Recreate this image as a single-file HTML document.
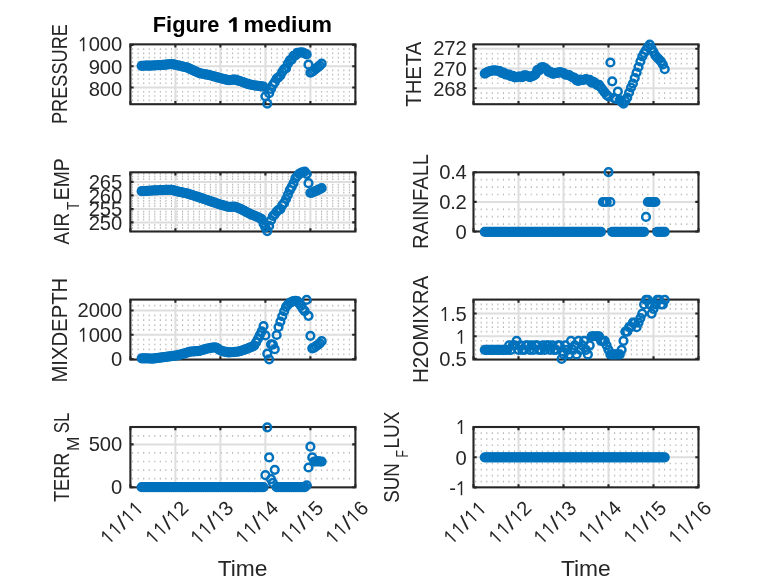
<!DOCTYPE html>
<html><head><meta charset="utf-8"><title>Figure 1 medium</title>
<style>html,body{margin:0;padding:0;background:#fff;}svg{display:block;will-change:transform;}</style>
</head><body>
<svg width="778" height="583" viewBox="0 0 778 583" font-family="'Liberation Sans', sans-serif" fill="#262626">
<rect width="778" height="583" fill="#fff"/>
<g id="ax0">
<path d="M132.00 49.16H355.40M132.00 53.42H355.40M132.00 57.68H355.40M132.00 61.94H355.40M132.00 70.46H355.40M132.00 74.72H355.40M132.00 78.98H355.40M132.00 83.24H355.40M132.00 91.76H355.40M132.00 96.02H355.40M132.00 100.28H355.40" stroke="#b6b6b6" stroke-width="1.7" stroke-dasharray="1.1 4.460" fill="none"/>
<path d="M175.40 44.35V104.20M220.40 44.35V104.20M265.40 44.35V104.20M310.40 44.35V104.20M130.40 66.20H355.40M130.40 87.50H355.40" stroke="#dedede" stroke-width="2.0" fill="none"/>
<rect x="130.40" y="44.35" width="225.00" height="59.85" fill="none" stroke="#262626" stroke-width="2.1"/>
<path d="M130.40 104.20v-3.2M130.40 44.35v3.2M175.40 104.20v-3.2M175.40 44.35v3.2M220.40 104.20v-3.2M220.40 44.35v3.2M265.40 104.20v-3.2M265.40 44.35v3.2M310.40 104.20v-3.2M310.40 44.35v3.2M355.40 104.20v-3.2M355.40 44.35v3.2M130.40 44.90h3.2M355.40 44.90h-3.2M130.40 66.20h3.2M355.40 66.20h-3.2M130.40 87.50h3.2M355.40 87.50h-3.2" stroke="#262626" stroke-width="2.1" fill="none"/>
<g fill="none" stroke="#0072bd" stroke-width="2.5">
<circle cx="141.65" cy="65.80" r="3.85"/>
<circle cx="143.53" cy="65.75" r="3.85"/>
<circle cx="145.40" cy="65.70" r="3.85"/>
<circle cx="147.28" cy="65.65" r="3.85"/>
<circle cx="149.15" cy="65.60" r="3.85"/>
<circle cx="151.03" cy="65.55" r="3.85"/>
<circle cx="152.90" cy="65.50" r="3.85"/>
<circle cx="154.78" cy="65.39" r="3.85"/>
<circle cx="156.65" cy="65.27" r="3.85"/>
<circle cx="158.53" cy="65.15" r="3.85"/>
<circle cx="160.40" cy="65.03" r="3.85"/>
<circle cx="162.28" cy="64.91" r="3.85"/>
<circle cx="164.15" cy="64.79" r="3.85"/>
<circle cx="166.03" cy="64.61" r="3.85"/>
<circle cx="167.90" cy="64.44" r="3.85"/>
<circle cx="169.78" cy="64.27" r="3.85"/>
<circle cx="171.65" cy="64.11" r="3.85"/>
<circle cx="173.53" cy="64.47" r="3.85"/>
<circle cx="175.40" cy="64.83" r="3.85"/>
<circle cx="177.28" cy="65.23" r="3.85"/>
<circle cx="179.15" cy="65.67" r="3.85"/>
<circle cx="181.03" cy="66.10" r="3.85"/>
<circle cx="182.90" cy="66.54" r="3.85"/>
<circle cx="184.78" cy="66.98" r="3.85"/>
<circle cx="186.65" cy="67.42" r="3.85"/>
<circle cx="188.53" cy="68.20" r="3.85"/>
<circle cx="190.40" cy="69.06" r="3.85"/>
<circle cx="192.28" cy="69.92" r="3.85"/>
<circle cx="194.15" cy="70.79" r="3.85"/>
<circle cx="196.03" cy="71.65" r="3.85"/>
<circle cx="197.90" cy="72.51" r="3.85"/>
<circle cx="199.78" cy="73.27" r="3.85"/>
<circle cx="201.65" cy="73.62" r="3.85"/>
<circle cx="203.53" cy="73.98" r="3.85"/>
<circle cx="205.40" cy="74.33" r="3.85"/>
<circle cx="207.28" cy="74.69" r="3.85"/>
<circle cx="209.15" cy="75.04" r="3.85"/>
<circle cx="211.03" cy="75.50" r="3.85"/>
<circle cx="212.90" cy="76.04" r="3.85"/>
<circle cx="214.78" cy="76.59" r="3.85"/>
<circle cx="216.65" cy="77.13" r="3.85"/>
<circle cx="218.53" cy="77.68" r="3.85"/>
<circle cx="220.40" cy="78.23" r="3.85"/>
<circle cx="222.28" cy="78.71" r="3.85"/>
<circle cx="224.15" cy="79.18" r="3.85"/>
<circle cx="226.03" cy="79.64" r="3.85"/>
<circle cx="227.90" cy="80.10" r="3.85"/>
<circle cx="229.78" cy="80.16" r="3.85"/>
<circle cx="231.65" cy="79.92" r="3.85"/>
<circle cx="233.53" cy="79.68" r="3.85"/>
<circle cx="235.40" cy="79.66" r="3.85"/>
<circle cx="237.28" cy="80.28" r="3.85"/>
<circle cx="239.15" cy="80.89" r="3.85"/>
<circle cx="241.03" cy="81.51" r="3.85"/>
<circle cx="242.90" cy="82.19" r="3.85"/>
<circle cx="244.78" cy="82.86" r="3.85"/>
<circle cx="246.65" cy="83.54" r="3.85"/>
<circle cx="248.53" cy="84.22" r="3.85"/>
<circle cx="250.40" cy="84.69" r="3.85"/>
<circle cx="252.28" cy="85.01" r="3.85"/>
<circle cx="254.15" cy="85.32" r="3.85"/>
<circle cx="256.02" cy="85.61" r="3.85"/>
<circle cx="257.90" cy="85.91" r="3.85"/>
<circle cx="259.77" cy="86.15" r="3.85"/>
<circle cx="261.65" cy="86.37" r="3.85"/>
<circle cx="263.52" cy="86.59" r="3.85"/>
<circle cx="265.40" cy="96.30" r="3.85"/>
<circle cx="267.27" cy="103.60" r="3.85"/>
<circle cx="269.15" cy="93.20" r="3.85"/>
<circle cx="271.02" cy="89.00" r="3.85"/>
<circle cx="272.90" cy="84.88" r="3.85"/>
<circle cx="274.77" cy="82.17" r="3.85"/>
<circle cx="276.65" cy="78.55" r="3.85"/>
<circle cx="278.52" cy="77.27" r="3.85"/>
<circle cx="280.40" cy="75.49" r="3.85"/>
<circle cx="282.27" cy="71.80" r="3.85"/>
<circle cx="284.15" cy="69.15" r="3.85"/>
<circle cx="286.02" cy="68.38" r="3.85"/>
<circle cx="287.90" cy="63.68" r="3.85"/>
<circle cx="289.77" cy="60.43" r="3.85"/>
<circle cx="291.65" cy="59.59" r="3.85"/>
<circle cx="293.52" cy="55.87" r="3.85"/>
<circle cx="295.40" cy="55.29" r="3.85"/>
<circle cx="297.27" cy="52.95" r="3.85"/>
<circle cx="299.15" cy="52.85" r="3.85"/>
<circle cx="301.02" cy="52.39" r="3.85"/>
<circle cx="302.90" cy="52.51" r="3.85"/>
<circle cx="304.77" cy="53.48" r="3.85"/>
<circle cx="306.65" cy="54.45" r="3.85"/>
<circle cx="308.52" cy="64.70" r="3.85"/>
<circle cx="310.40" cy="72.70" r="3.85"/>
<circle cx="312.27" cy="71.68" r="3.85"/>
<circle cx="314.15" cy="70.13" r="3.85"/>
<circle cx="316.02" cy="68.65" r="3.85"/>
<circle cx="317.90" cy="67.16" r="3.85"/>
<circle cx="319.77" cy="65.67" r="3.85"/>
<circle cx="321.65" cy="63.66" r="3.85"/>
</g>
<g transform="translate(122.10 51.25)"><path transform="translate(-44.48 0)" d="M6.75 0.00L5.27 0.00L5.27 -9.50Q5.27 -10.69 5.34 -11.74Q5.15 -11.55 4.92 -11.34Q4.69 -11.14 2.78 -9.57L1.98 -10.59L5.49 -13.88L6.75 -13.88Z"/><text x="-33.42" font-size="20.2">0</text><text x="-22.30" font-size="20.2">0</text><text x="-11.18" font-size="20.2">0</text></g>
<g transform="translate(122.10 73.55)"><text x="-33.42" font-size="20.2">9</text><text x="-22.30" font-size="20.2">0</text><text x="-11.18" font-size="20.2">0</text></g>
<g transform="translate(122.10 95.75)"><text x="-33.42" font-size="20.2">8</text><text x="-22.30" font-size="20.2">0</text><text x="-11.18" font-size="20.2">0</text></g>
<text transform="translate(67.10 124.00) rotate(-90)" font-size="22.0" textLength="100.00" lengthAdjust="spacingAndGlyphs">PRESSURE</text>
<g font-size="21.8" font-weight="bold" fill="#000"><text x="152.8" y="31.8" textLength="66.6" lengthAdjust="spacingAndGlyphs">Figure</text><text x="243.6" y="31.8" textLength="88.4" lengthAdjust="spacingAndGlyphs">medium</text><path transform="translate(236.7 31.8)" d="M0 0H-3.5V-9.4Q-3.5 -10.2 -3.4 -11L-6.7 -8.2L-8.3 -10.2L-2.7 -14.5H0Z"/></g>
</g>
<g id="ax1">
<path d="M475.10 53.73H698.50M475.10 58.65H698.50M475.10 63.58H698.50M475.10 73.42H698.50M475.10 78.35H698.50M475.10 83.27H698.50M475.10 93.12H698.50M475.10 98.05H698.50" stroke="#b6b6b6" stroke-width="1.7" stroke-dasharray="1.1 4.460" fill="none"/>
<path d="M518.50 44.35V104.20M563.50 44.35V104.20M608.50 44.35V104.20M653.50 44.35V104.20M473.50 48.80H698.50M473.50 68.50H698.50M473.50 88.20H698.50" stroke="#dedede" stroke-width="2.0" fill="none"/>
<rect x="473.50" y="44.35" width="225.00" height="59.85" fill="none" stroke="#262626" stroke-width="2.1"/>
<path d="M473.50 104.20v-3.2M473.50 44.35v3.2M518.50 104.20v-3.2M518.50 44.35v3.2M563.50 104.20v-3.2M563.50 44.35v3.2M608.50 104.20v-3.2M608.50 44.35v3.2M653.50 104.20v-3.2M653.50 44.35v3.2M698.50 104.20v-3.2M698.50 44.35v3.2M473.50 48.80h3.2M698.50 48.80h-3.2M473.50 68.50h3.2M698.50 68.50h-3.2M473.50 88.20h3.2M698.50 88.20h-3.2" stroke="#262626" stroke-width="2.1" fill="none"/>
<g fill="none" stroke="#0072bd" stroke-width="2.5">
<circle cx="484.75" cy="73.60" r="3.85"/>
<circle cx="486.62" cy="72.69" r="3.85"/>
<circle cx="488.50" cy="71.65" r="3.85"/>
<circle cx="490.38" cy="71.00" r="3.85"/>
<circle cx="492.25" cy="70.65" r="3.85"/>
<circle cx="494.12" cy="70.31" r="3.85"/>
<circle cx="496.00" cy="70.62" r="3.85"/>
<circle cx="497.88" cy="70.85" r="3.85"/>
<circle cx="499.75" cy="71.12" r="3.85"/>
<circle cx="501.62" cy="73.01" r="3.85"/>
<circle cx="503.50" cy="72.52" r="3.85"/>
<circle cx="505.38" cy="74.33" r="3.85"/>
<circle cx="507.25" cy="74.58" r="3.85"/>
<circle cx="509.12" cy="74.52" r="3.85"/>
<circle cx="511.00" cy="76.12" r="3.85"/>
<circle cx="512.88" cy="75.80" r="3.85"/>
<circle cx="514.75" cy="77.43" r="3.85"/>
<circle cx="516.62" cy="77.14" r="3.85"/>
<circle cx="518.50" cy="76.53" r="3.85"/>
<circle cx="520.38" cy="76.62" r="3.85"/>
<circle cx="522.25" cy="77.17" r="3.85"/>
<circle cx="524.12" cy="75.41" r="3.85"/>
<circle cx="526.00" cy="75.42" r="3.85"/>
<circle cx="527.88" cy="76.23" r="3.85"/>
<circle cx="529.75" cy="77.06" r="3.85"/>
<circle cx="531.62" cy="76.37" r="3.85"/>
<circle cx="533.50" cy="75.68" r="3.85"/>
<circle cx="535.38" cy="74.50" r="3.85"/>
<circle cx="537.25" cy="70.08" r="3.85"/>
<circle cx="539.12" cy="70.32" r="3.85"/>
<circle cx="541.00" cy="67.52" r="3.85"/>
<circle cx="542.88" cy="67.19" r="3.85"/>
<circle cx="544.75" cy="68.05" r="3.85"/>
<circle cx="546.62" cy="69.44" r="3.85"/>
<circle cx="548.50" cy="71.91" r="3.85"/>
<circle cx="550.38" cy="71.87" r="3.85"/>
<circle cx="552.25" cy="73.72" r="3.85"/>
<circle cx="554.12" cy="73.60" r="3.85"/>
<circle cx="556.00" cy="72.77" r="3.85"/>
<circle cx="557.88" cy="72.91" r="3.85"/>
<circle cx="559.75" cy="72.17" r="3.85"/>
<circle cx="561.62" cy="72.49" r="3.85"/>
<circle cx="563.50" cy="73.15" r="3.85"/>
<circle cx="565.38" cy="74.71" r="3.85"/>
<circle cx="567.25" cy="74.76" r="3.85"/>
<circle cx="569.12" cy="75.11" r="3.85"/>
<circle cx="571.00" cy="76.51" r="3.85"/>
<circle cx="572.88" cy="77.34" r="3.85"/>
<circle cx="574.75" cy="78.12" r="3.85"/>
<circle cx="576.62" cy="80.33" r="3.85"/>
<circle cx="578.50" cy="80.87" r="3.85"/>
<circle cx="580.38" cy="79.63" r="3.85"/>
<circle cx="582.25" cy="80.11" r="3.85"/>
<circle cx="584.12" cy="79.74" r="3.85"/>
<circle cx="586.00" cy="79.17" r="3.85"/>
<circle cx="587.88" cy="79.75" r="3.85"/>
<circle cx="589.75" cy="79.94" r="3.85"/>
<circle cx="591.62" cy="82.64" r="3.85"/>
<circle cx="593.50" cy="81.76" r="3.85"/>
<circle cx="595.38" cy="83.36" r="3.85"/>
<circle cx="597.25" cy="85.04" r="3.85"/>
<circle cx="599.12" cy="84.93" r="3.85"/>
<circle cx="601.00" cy="87.50" r="3.85"/>
<circle cx="602.88" cy="90.00" r="3.85"/>
<circle cx="604.75" cy="92.50" r="3.85"/>
<circle cx="606.62" cy="94.80" r="3.85"/>
<circle cx="608.50" cy="96.50" r="3.85"/>
<circle cx="610.38" cy="62.50" r="3.85"/>
<circle cx="612.25" cy="81.30" r="3.85"/>
<circle cx="614.12" cy="98.20" r="3.85"/>
<circle cx="616.00" cy="99.00" r="3.85"/>
<circle cx="617.88" cy="91.50" r="3.85"/>
<circle cx="619.75" cy="100.00" r="3.85"/>
<circle cx="621.62" cy="102.00" r="3.85"/>
<circle cx="623.50" cy="103.60" r="3.85"/>
<circle cx="625.38" cy="101.00" r="3.85"/>
<circle cx="627.25" cy="97.50" r="3.85"/>
<circle cx="629.12" cy="92.50" r="3.85"/>
<circle cx="631.00" cy="87.50" r="3.85"/>
<circle cx="632.88" cy="83.50" r="3.85"/>
<circle cx="634.75" cy="78.00" r="3.85"/>
<circle cx="636.62" cy="72.50" r="3.85"/>
<circle cx="638.50" cy="67.00" r="3.85"/>
<circle cx="640.38" cy="61.50" r="3.85"/>
<circle cx="642.25" cy="56.50" r="3.85"/>
<circle cx="644.12" cy="53.00" r="3.85"/>
<circle cx="646.00" cy="50.00" r="3.85"/>
<circle cx="647.88" cy="47.00" r="3.85"/>
<circle cx="649.75" cy="44.60" r="3.85"/>
<circle cx="651.62" cy="48.50" r="3.85"/>
<circle cx="653.50" cy="52.00" r="3.85"/>
<circle cx="655.38" cy="55.50" r="3.85"/>
<circle cx="657.25" cy="57.50" r="3.85"/>
<circle cx="659.12" cy="59.50" r="3.85"/>
<circle cx="661.00" cy="61.50" r="3.85"/>
<circle cx="662.88" cy="64.50" r="3.85"/>
<circle cx="664.75" cy="69.20" r="3.85"/>
</g>
<g transform="translate(466.60 55.15)"><text x="-33.42" font-size="20.2">2</text><text x="-22.30" font-size="20.2">7</text><text x="-11.18" font-size="20.2">2</text></g>
<g transform="translate(466.60 75.85)"><text x="-33.42" font-size="20.2">2</text><text x="-22.30" font-size="20.2">7</text><text x="-11.18" font-size="20.2">0</text></g>
<g transform="translate(466.60 95.95)"><text x="-33.42" font-size="20.2">2</text><text x="-22.30" font-size="20.2">6</text><text x="-11.18" font-size="20.2">8</text></g>
<text transform="translate(421.10 106.80) rotate(-90)" font-size="22.0" textLength="65.20" lengthAdjust="spacingAndGlyphs">THETA</text>
</g>
<g id="ax2">
<path d="M132.00 173.80H355.40M132.00 176.50H355.40M132.00 179.20H355.40M132.00 184.60H355.40M132.00 187.30H355.40M132.00 190.00H355.40M132.00 192.70H355.40M132.00 198.10H355.40M132.00 200.80H355.40M132.00 203.50H355.40M132.00 206.20H355.40M132.00 211.60H355.40M132.00 214.30H355.40M132.00 217.00H355.40M132.00 219.70H355.40M132.00 225.10H355.40M132.00 227.80H355.40" stroke="#b6b6b6" stroke-width="1.7" stroke-dasharray="1.1 4.460" fill="none"/>
<path d="M175.40 172.30V231.50M220.40 172.30V231.50M265.40 172.30V231.50M310.40 172.30V231.50M130.40 181.90H355.40M130.40 195.40H355.40M130.40 209.10H355.40M130.40 222.40H355.40" stroke="#dedede" stroke-width="2.0" fill="none"/>
<rect x="130.40" y="172.30" width="225.00" height="59.20" fill="none" stroke="#262626" stroke-width="2.1"/>
<path d="M130.40 231.50v-3.2M130.40 172.30v3.2M175.40 231.50v-3.2M175.40 172.30v3.2M220.40 231.50v-3.2M220.40 172.30v3.2M265.40 231.50v-3.2M265.40 172.30v3.2M310.40 231.50v-3.2M310.40 172.30v3.2M355.40 231.50v-3.2M355.40 172.30v3.2M130.40 181.90h3.2M355.40 181.90h-3.2M130.40 195.40h3.2M355.40 195.40h-3.2M130.40 209.10h3.2M355.40 209.10h-3.2M130.40 222.40h3.2M355.40 222.40h-3.2" stroke="#262626" stroke-width="2.1" fill="none"/>
<g fill="none" stroke="#0072bd" stroke-width="2.5">
<circle cx="141.65" cy="191.20" r="3.85"/>
<circle cx="143.53" cy="191.10" r="3.85"/>
<circle cx="145.40" cy="190.99" r="3.85"/>
<circle cx="147.28" cy="190.87" r="3.85"/>
<circle cx="149.15" cy="190.75" r="3.85"/>
<circle cx="151.03" cy="190.63" r="3.85"/>
<circle cx="152.90" cy="190.51" r="3.85"/>
<circle cx="154.78" cy="190.42" r="3.85"/>
<circle cx="156.65" cy="190.34" r="3.85"/>
<circle cx="158.53" cy="190.25" r="3.85"/>
<circle cx="160.40" cy="190.16" r="3.85"/>
<circle cx="162.28" cy="190.08" r="3.85"/>
<circle cx="164.15" cy="189.99" r="3.85"/>
<circle cx="166.03" cy="189.91" r="3.85"/>
<circle cx="167.90" cy="189.83" r="3.85"/>
<circle cx="169.78" cy="189.75" r="3.85"/>
<circle cx="171.65" cy="189.91" r="3.85"/>
<circle cx="173.53" cy="190.43" r="3.85"/>
<circle cx="175.40" cy="190.95" r="3.85"/>
<circle cx="177.28" cy="191.41" r="3.85"/>
<circle cx="179.15" cy="191.81" r="3.85"/>
<circle cx="181.03" cy="192.21" r="3.85"/>
<circle cx="182.90" cy="192.61" r="3.85"/>
<circle cx="184.78" cy="193.00" r="3.85"/>
<circle cx="186.65" cy="193.40" r="3.85"/>
<circle cx="188.53" cy="193.95" r="3.85"/>
<circle cx="190.40" cy="194.55" r="3.85"/>
<circle cx="192.28" cy="195.14" r="3.85"/>
<circle cx="194.15" cy="195.74" r="3.85"/>
<circle cx="196.03" cy="196.33" r="3.85"/>
<circle cx="197.90" cy="196.92" r="3.85"/>
<circle cx="199.78" cy="197.53" r="3.85"/>
<circle cx="201.65" cy="198.19" r="3.85"/>
<circle cx="203.53" cy="198.85" r="3.85"/>
<circle cx="205.40" cy="199.51" r="3.85"/>
<circle cx="207.28" cy="200.17" r="3.85"/>
<circle cx="209.15" cy="200.83" r="3.85"/>
<circle cx="211.03" cy="201.47" r="3.85"/>
<circle cx="212.90" cy="202.10" r="3.85"/>
<circle cx="214.78" cy="202.72" r="3.85"/>
<circle cx="216.65" cy="203.35" r="3.85"/>
<circle cx="218.53" cy="203.98" r="3.85"/>
<circle cx="220.40" cy="204.60" r="3.85"/>
<circle cx="222.28" cy="205.16" r="3.85"/>
<circle cx="224.15" cy="205.70" r="3.85"/>
<circle cx="226.03" cy="206.24" r="3.85"/>
<circle cx="227.90" cy="206.77" r="3.85"/>
<circle cx="229.78" cy="206.93" r="3.85"/>
<circle cx="231.65" cy="206.81" r="3.85"/>
<circle cx="233.53" cy="206.69" r="3.85"/>
<circle cx="235.40" cy="206.81" r="3.85"/>
<circle cx="237.28" cy="207.61" r="3.85"/>
<circle cx="239.15" cy="208.41" r="3.85"/>
<circle cx="241.03" cy="209.21" r="3.85"/>
<circle cx="242.90" cy="210.21" r="3.85"/>
<circle cx="244.78" cy="211.20" r="3.85"/>
<circle cx="246.65" cy="212.20" r="3.85"/>
<circle cx="248.53" cy="213.19" r="3.85"/>
<circle cx="250.40" cy="214.04" r="3.85"/>
<circle cx="252.28" cy="214.80" r="3.85"/>
<circle cx="254.15" cy="215.55" r="3.85"/>
<circle cx="256.02" cy="216.31" r="3.85"/>
<circle cx="257.90" cy="217.15" r="3.85"/>
<circle cx="259.77" cy="218.09" r="3.85"/>
<circle cx="261.65" cy="219.12" r="3.85"/>
<circle cx="263.52" cy="223.52" r="3.85"/>
<circle cx="265.40" cy="227.36" r="3.85"/>
<circle cx="267.27" cy="231.05" r="3.85"/>
<circle cx="269.15" cy="225.90" r="3.85"/>
<circle cx="271.02" cy="220.26" r="3.85"/>
<circle cx="272.90" cy="216.00" r="3.85"/>
<circle cx="274.77" cy="214.30" r="3.85"/>
<circle cx="276.65" cy="211.66" r="3.85"/>
<circle cx="278.52" cy="209.82" r="3.85"/>
<circle cx="280.40" cy="209.07" r="3.85"/>
<circle cx="282.27" cy="205.07" r="3.85"/>
<circle cx="284.15" cy="202.94" r="3.85"/>
<circle cx="286.02" cy="198.99" r="3.85"/>
<circle cx="287.90" cy="194.79" r="3.85"/>
<circle cx="289.77" cy="190.22" r="3.85"/>
<circle cx="291.65" cy="186.91" r="3.85"/>
<circle cx="293.52" cy="183.21" r="3.85"/>
<circle cx="295.40" cy="178.23" r="3.85"/>
<circle cx="297.27" cy="176.01" r="3.85"/>
<circle cx="299.15" cy="173.79" r="3.85"/>
<circle cx="301.02" cy="172.90" r="3.85"/>
<circle cx="302.90" cy="172.20" r="3.85"/>
<circle cx="304.77" cy="171.51" r="3.85"/>
<circle cx="306.65" cy="173.87" r="3.85"/>
<circle cx="308.52" cy="183.20" r="3.85"/>
<circle cx="310.40" cy="192.98" r="3.85"/>
<circle cx="312.27" cy="192.55" r="3.85"/>
<circle cx="314.15" cy="191.66" r="3.85"/>
<circle cx="316.02" cy="190.92" r="3.85"/>
<circle cx="317.90" cy="190.09" r="3.85"/>
<circle cx="319.77" cy="189.12" r="3.85"/>
<circle cx="321.65" cy="188.15" r="3.85"/>
</g>
<g transform="translate(122.10 189.15)"><text x="-33.42" font-size="20.2">2</text><text x="-22.30" font-size="20.2">6</text><text x="-11.18" font-size="20.2">5</text></g>
<g transform="translate(122.10 202.95)"><text x="-33.42" font-size="20.2">2</text><text x="-22.30" font-size="20.2">6</text><text x="-11.18" font-size="20.2">0</text></g>
<g transform="translate(122.10 216.45)"><text x="-33.42" font-size="20.2">2</text><text x="-22.30" font-size="20.2">5</text><text x="-11.18" font-size="20.2">5</text></g>
<g transform="translate(122.10 229.95)"><text x="-33.42" font-size="20.2">2</text><text x="-22.30" font-size="20.2">5</text><text x="-11.18" font-size="20.2">0</text></g>
<text transform="translate(68.80 244.50) rotate(-90)" font-size="22.0" textLength="31.60" lengthAdjust="spacingAndGlyphs">AIR</text>
<text transform="translate(78.60 209.90) rotate(-90)" font-size="16.8" textLength="8.20" lengthAdjust="spacingAndGlyphs">T</text>
<text transform="translate(68.80 200.20) rotate(-90)" font-size="22.0" textLength="42.00" lengthAdjust="spacingAndGlyphs">EMP</text>
</g>
<g id="ax3">
<path d="M475.10 179.70H698.50M475.10 187.10H698.50M475.10 194.50H698.50M475.10 209.30H698.50M475.10 216.70H698.50M475.10 224.10H698.50" stroke="#b6b6b6" stroke-width="1.7" stroke-dasharray="1.1 4.460" fill="none"/>
<path d="M518.50 172.30V231.50M563.50 172.30V231.50M608.50 172.30V231.50M653.50 172.30V231.50M473.50 201.90H698.50" stroke="#dedede" stroke-width="2.0" fill="none"/>
<rect x="473.50" y="172.30" width="225.00" height="59.20" fill="none" stroke="#262626" stroke-width="2.1"/>
<path d="M473.50 231.50v-3.2M473.50 172.30v3.2M518.50 231.50v-3.2M518.50 172.30v3.2M563.50 231.50v-3.2M563.50 172.30v3.2M608.50 231.50v-3.2M608.50 172.30v3.2M653.50 231.50v-3.2M653.50 172.30v3.2M698.50 231.50v-3.2M698.50 172.30v3.2M473.50 172.30h3.2M698.50 172.30h-3.2M473.50 201.90h3.2M698.50 201.90h-3.2M473.50 231.50h3.2M698.50 231.50h-3.2" stroke="#262626" stroke-width="2.1" fill="none"/>
<g fill="none" stroke="#0072bd" stroke-width="2.5">
<circle cx="484.75" cy="231.80" r="3.85"/>
<circle cx="486.62" cy="231.80" r="3.85"/>
<circle cx="488.50" cy="231.80" r="3.85"/>
<circle cx="490.38" cy="231.80" r="3.85"/>
<circle cx="492.25" cy="231.80" r="3.85"/>
<circle cx="494.12" cy="231.80" r="3.85"/>
<circle cx="496.00" cy="231.80" r="3.85"/>
<circle cx="497.88" cy="231.80" r="3.85"/>
<circle cx="499.75" cy="231.80" r="3.85"/>
<circle cx="501.62" cy="231.80" r="3.85"/>
<circle cx="503.50" cy="231.80" r="3.85"/>
<circle cx="505.38" cy="231.80" r="3.85"/>
<circle cx="507.25" cy="231.80" r="3.85"/>
<circle cx="509.12" cy="231.80" r="3.85"/>
<circle cx="511.00" cy="231.80" r="3.85"/>
<circle cx="512.88" cy="231.80" r="3.85"/>
<circle cx="514.75" cy="231.80" r="3.85"/>
<circle cx="516.62" cy="231.80" r="3.85"/>
<circle cx="518.50" cy="231.80" r="3.85"/>
<circle cx="520.38" cy="231.80" r="3.85"/>
<circle cx="522.25" cy="231.80" r="3.85"/>
<circle cx="524.12" cy="231.80" r="3.85"/>
<circle cx="526.00" cy="231.80" r="3.85"/>
<circle cx="527.88" cy="231.80" r="3.85"/>
<circle cx="529.75" cy="231.80" r="3.85"/>
<circle cx="531.62" cy="231.80" r="3.85"/>
<circle cx="533.50" cy="231.80" r="3.85"/>
<circle cx="535.38" cy="231.80" r="3.85"/>
<circle cx="537.25" cy="231.80" r="3.85"/>
<circle cx="539.12" cy="231.80" r="3.85"/>
<circle cx="541.00" cy="231.80" r="3.85"/>
<circle cx="542.88" cy="231.80" r="3.85"/>
<circle cx="544.75" cy="231.80" r="3.85"/>
<circle cx="546.62" cy="231.80" r="3.85"/>
<circle cx="548.50" cy="231.80" r="3.85"/>
<circle cx="550.38" cy="231.80" r="3.85"/>
<circle cx="552.25" cy="231.80" r="3.85"/>
<circle cx="554.12" cy="231.80" r="3.85"/>
<circle cx="556.00" cy="231.80" r="3.85"/>
<circle cx="557.88" cy="231.80" r="3.85"/>
<circle cx="559.75" cy="231.80" r="3.85"/>
<circle cx="561.62" cy="231.80" r="3.85"/>
<circle cx="563.50" cy="231.80" r="3.85"/>
<circle cx="565.38" cy="231.80" r="3.85"/>
<circle cx="567.25" cy="231.80" r="3.85"/>
<circle cx="569.12" cy="231.80" r="3.85"/>
<circle cx="571.00" cy="231.80" r="3.85"/>
<circle cx="572.88" cy="231.80" r="3.85"/>
<circle cx="574.75" cy="231.80" r="3.85"/>
<circle cx="576.62" cy="231.80" r="3.85"/>
<circle cx="578.50" cy="231.80" r="3.85"/>
<circle cx="580.38" cy="231.80" r="3.85"/>
<circle cx="582.25" cy="231.80" r="3.85"/>
<circle cx="584.12" cy="231.80" r="3.85"/>
<circle cx="586.00" cy="231.80" r="3.85"/>
<circle cx="587.88" cy="231.80" r="3.85"/>
<circle cx="589.75" cy="231.80" r="3.85"/>
<circle cx="591.62" cy="231.80" r="3.85"/>
<circle cx="593.50" cy="231.80" r="3.85"/>
<circle cx="595.38" cy="231.80" r="3.85"/>
<circle cx="597.25" cy="231.80" r="3.85"/>
<circle cx="599.12" cy="231.80" r="3.85"/>
<circle cx="601.00" cy="231.80" r="3.85"/>
<circle cx="602.88" cy="202.00" r="3.85"/>
<circle cx="604.75" cy="202.00" r="3.85"/>
<circle cx="606.62" cy="202.00" r="3.85"/>
<circle cx="608.50" cy="172.20" r="3.85"/>
<circle cx="610.38" cy="202.00" r="3.85"/>
<circle cx="612.25" cy="231.80" r="3.85"/>
<circle cx="614.12" cy="231.80" r="3.85"/>
<circle cx="616.00" cy="231.80" r="3.85"/>
<circle cx="617.88" cy="231.80" r="3.85"/>
<circle cx="619.75" cy="231.80" r="3.85"/>
<circle cx="621.62" cy="231.80" r="3.85"/>
<circle cx="623.50" cy="231.80" r="3.85"/>
<circle cx="625.38" cy="231.80" r="3.85"/>
<circle cx="627.25" cy="231.80" r="3.85"/>
<circle cx="629.12" cy="231.80" r="3.85"/>
<circle cx="631.00" cy="231.80" r="3.85"/>
<circle cx="632.88" cy="231.80" r="3.85"/>
<circle cx="634.75" cy="231.80" r="3.85"/>
<circle cx="636.62" cy="231.80" r="3.85"/>
<circle cx="638.50" cy="231.80" r="3.85"/>
<circle cx="640.38" cy="231.80" r="3.85"/>
<circle cx="642.25" cy="231.80" r="3.85"/>
<circle cx="644.12" cy="231.80" r="3.85"/>
<circle cx="646.00" cy="216.90" r="3.85"/>
<circle cx="647.88" cy="202.00" r="3.85"/>
<circle cx="649.75" cy="202.00" r="3.85"/>
<circle cx="651.62" cy="202.00" r="3.85"/>
<circle cx="653.50" cy="202.00" r="3.85"/>
<circle cx="655.38" cy="202.00" r="3.85"/>
<circle cx="657.25" cy="231.80" r="3.85"/>
<circle cx="659.12" cy="231.80" r="3.85"/>
<circle cx="661.00" cy="231.80" r="3.85"/>
<circle cx="662.88" cy="231.80" r="3.85"/>
<circle cx="664.75" cy="231.80" r="3.85"/>
</g>
<g transform="translate(466.60 179.15)"><text x="-27.30" font-size="20.2">0</text><text x="-16.43" font-size="20.2">.</text><text x="-11.18" font-size="20.2">4</text></g>
<g transform="translate(466.60 208.95)"><text x="-27.30" font-size="20.2">0</text><text x="-16.43" font-size="20.2">.</text><text x="-11.18" font-size="20.2">2</text></g>
<g transform="translate(466.60 239.05)"><text x="-11.18" font-size="20.2">0</text></g>
<text transform="translate(428.30 249.00) rotate(-90)" font-size="22.0" textLength="95.00" lengthAdjust="spacingAndGlyphs">RAINFALL</text>
</g>
<g id="ax4">
<path d="M132.00 305.64H355.40M132.00 315.36H355.40M132.00 320.22H355.40M132.00 325.08H355.40M132.00 329.94H355.40M132.00 339.66H355.40M132.00 344.52H355.40M132.00 349.38H355.40M132.00 354.24H355.40" stroke="#b6b6b6" stroke-width="1.7" stroke-dasharray="1.1 4.460" fill="none"/>
<path d="M175.40 299.60V359.55M220.40 299.60V359.55M265.40 299.60V359.55M310.40 299.60V359.55M130.40 310.50H355.40M130.40 334.80H355.40" stroke="#dedede" stroke-width="2.0" fill="none"/>
<rect x="130.40" y="299.60" width="225.00" height="59.95" fill="none" stroke="#262626" stroke-width="2.1"/>
<path d="M130.40 359.55v-3.2M130.40 299.60v3.2M175.40 359.55v-3.2M175.40 299.60v3.2M220.40 359.55v-3.2M220.40 299.60v3.2M265.40 359.55v-3.2M265.40 299.60v3.2M310.40 359.55v-3.2M310.40 299.60v3.2M355.40 359.55v-3.2M355.40 299.60v3.2M130.40 310.50h3.2M355.40 310.50h-3.2M130.40 334.80h3.2M355.40 334.80h-3.2M130.40 359.10h3.2M355.40 359.10h-3.2" stroke="#262626" stroke-width="2.1" fill="none"/>
<g fill="none" stroke="#0072bd" stroke-width="2.5">
<circle cx="141.65" cy="358.30" r="3.85"/>
<circle cx="143.53" cy="358.35" r="3.85"/>
<circle cx="145.40" cy="358.40" r="3.85"/>
<circle cx="147.28" cy="358.45" r="3.85"/>
<circle cx="149.15" cy="358.50" r="3.85"/>
<circle cx="151.03" cy="358.55" r="3.85"/>
<circle cx="152.90" cy="358.59" r="3.85"/>
<circle cx="154.78" cy="358.37" r="3.85"/>
<circle cx="156.65" cy="358.11" r="3.85"/>
<circle cx="158.53" cy="357.85" r="3.85"/>
<circle cx="160.40" cy="357.59" r="3.85"/>
<circle cx="162.28" cy="357.33" r="3.85"/>
<circle cx="164.15" cy="357.07" r="3.85"/>
<circle cx="166.03" cy="356.84" r="3.85"/>
<circle cx="167.90" cy="356.62" r="3.85"/>
<circle cx="169.78" cy="356.39" r="3.85"/>
<circle cx="171.65" cy="356.16" r="3.85"/>
<circle cx="173.53" cy="355.94" r="3.85"/>
<circle cx="175.40" cy="355.71" r="3.85"/>
<circle cx="177.28" cy="355.34" r="3.85"/>
<circle cx="179.15" cy="354.85" r="3.85"/>
<circle cx="181.03" cy="354.36" r="3.85"/>
<circle cx="182.90" cy="353.85" r="3.85"/>
<circle cx="184.78" cy="353.30" r="3.85"/>
<circle cx="186.65" cy="352.75" r="3.85"/>
<circle cx="188.53" cy="352.19" r="3.85"/>
<circle cx="190.40" cy="351.68" r="3.85"/>
<circle cx="192.28" cy="351.52" r="3.85"/>
<circle cx="194.15" cy="351.36" r="3.85"/>
<circle cx="196.03" cy="351.19" r="3.85"/>
<circle cx="197.90" cy="351.03" r="3.85"/>
<circle cx="199.78" cy="350.79" r="3.85"/>
<circle cx="201.65" cy="350.23" r="3.85"/>
<circle cx="203.53" cy="349.67" r="3.85"/>
<circle cx="205.40" cy="349.11" r="3.85"/>
<circle cx="207.28" cy="348.57" r="3.85"/>
<circle cx="209.15" cy="348.24" r="3.85"/>
<circle cx="211.03" cy="347.91" r="3.85"/>
<circle cx="212.90" cy="347.58" r="3.85"/>
<circle cx="214.78" cy="347.25" r="3.85"/>
<circle cx="216.65" cy="347.84" r="3.85"/>
<circle cx="218.53" cy="349.16" r="3.85"/>
<circle cx="220.40" cy="350.48" r="3.85"/>
<circle cx="222.28" cy="351.16" r="3.85"/>
<circle cx="224.15" cy="351.55" r="3.85"/>
<circle cx="226.03" cy="351.94" r="3.85"/>
<circle cx="227.90" cy="352.33" r="3.85"/>
<circle cx="229.78" cy="352.41" r="3.85"/>
<circle cx="231.65" cy="352.25" r="3.85"/>
<circle cx="233.53" cy="352.08" r="3.85"/>
<circle cx="235.40" cy="351.92" r="3.85"/>
<circle cx="237.28" cy="351.76" r="3.85"/>
<circle cx="239.15" cy="351.36" r="3.85"/>
<circle cx="241.03" cy="350.80" r="3.85"/>
<circle cx="242.90" cy="350.24" r="3.85"/>
<circle cx="244.78" cy="349.68" r="3.85"/>
<circle cx="246.65" cy="349.00" r="3.85"/>
<circle cx="248.53" cy="348.22" r="3.85"/>
<circle cx="250.40" cy="347.42" r="3.85"/>
<circle cx="252.28" cy="346.56" r="3.85"/>
<circle cx="254.15" cy="345.70" r="3.85"/>
<circle cx="256.02" cy="342.45" r="3.85"/>
<circle cx="257.90" cy="339.00" r="3.85"/>
<circle cx="259.77" cy="335.05" r="3.85"/>
<circle cx="261.65" cy="331.40" r="3.85"/>
<circle cx="263.52" cy="326.01" r="3.85"/>
<circle cx="265.40" cy="335.40" r="3.85"/>
<circle cx="267.27" cy="353.70" r="3.85"/>
<circle cx="269.15" cy="359.30" r="3.85"/>
<circle cx="271.02" cy="344.30" r="3.85"/>
<circle cx="272.90" cy="344.60" r="3.85"/>
<circle cx="274.77" cy="349.20" r="3.85"/>
<circle cx="276.65" cy="335.00" r="3.85"/>
<circle cx="278.52" cy="327.00" r="3.85"/>
<circle cx="280.40" cy="321.60" r="3.85"/>
<circle cx="282.27" cy="316.26" r="3.85"/>
<circle cx="284.15" cy="311.25" r="3.85"/>
<circle cx="286.02" cy="306.85" r="3.85"/>
<circle cx="287.90" cy="304.60" r="3.85"/>
<circle cx="289.77" cy="302.90" r="3.85"/>
<circle cx="291.65" cy="301.92" r="3.85"/>
<circle cx="293.52" cy="301.08" r="3.85"/>
<circle cx="295.40" cy="300.93" r="3.85"/>
<circle cx="297.27" cy="301.02" r="3.85"/>
<circle cx="299.15" cy="303.38" r="3.85"/>
<circle cx="301.02" cy="305.96" r="3.85"/>
<circle cx="302.90" cy="308.84" r="3.85"/>
<circle cx="304.77" cy="311.23" r="3.85"/>
<circle cx="306.65" cy="299.80" r="3.85"/>
<circle cx="308.52" cy="315.81" r="3.85"/>
<circle cx="310.40" cy="335.80" r="3.85"/>
<circle cx="312.27" cy="348.30" r="3.85"/>
<circle cx="314.15" cy="347.72" r="3.85"/>
<circle cx="316.02" cy="346.19" r="3.85"/>
<circle cx="317.90" cy="344.80" r="3.85"/>
<circle cx="319.77" cy="343.35" r="3.85"/>
<circle cx="321.65" cy="341.19" r="3.85"/>
</g>
<g transform="translate(122.10 317.05)"><text x="-44.54" font-size="20.2">2</text><text x="-33.42" font-size="20.2">0</text><text x="-22.30" font-size="20.2">0</text><text x="-11.18" font-size="20.2">0</text></g>
<g transform="translate(122.10 341.75)"><path transform="translate(-44.48 0)" d="M6.75 0.00L5.27 0.00L5.27 -9.50Q5.27 -10.69 5.34 -11.74Q5.15 -11.55 4.92 -11.34Q4.69 -11.14 2.78 -9.57L1.98 -10.59L5.49 -13.88L6.75 -13.88Z"/><text x="-33.42" font-size="20.2">0</text><text x="-22.30" font-size="20.2">0</text><text x="-11.18" font-size="20.2">0</text></g>
<g transform="translate(122.10 366.05)"><text x="-11.18" font-size="20.2">0</text></g>
<text transform="translate(67.20 382.60) rotate(-90)" font-size="22.0" textLength="104.80" lengthAdjust="spacingAndGlyphs">MIXDEPTH</text>
</g>
<g id="ax5">
<path d="M475.10 304.42H698.50M475.10 308.96H698.50M475.10 318.04H698.50M475.10 322.58H698.50M475.10 327.12H698.50M475.10 331.66H698.50M475.10 340.74H698.50M475.10 345.28H698.50M475.10 349.82H698.50M475.10 354.36H698.50" stroke="#b6b6b6" stroke-width="1.7" stroke-dasharray="1.1 4.460" fill="none"/>
<path d="M518.50 299.60V359.55M563.50 299.60V359.55M608.50 299.60V359.55M653.50 299.60V359.55M473.50 313.50H698.50M473.50 336.20H698.50" stroke="#dedede" stroke-width="2.0" fill="none"/>
<rect x="473.50" y="299.60" width="225.00" height="59.95" fill="none" stroke="#262626" stroke-width="2.1"/>
<path d="M473.50 359.55v-3.2M473.50 299.60v3.2M518.50 359.55v-3.2M518.50 299.60v3.2M563.50 359.55v-3.2M563.50 299.60v3.2M608.50 359.55v-3.2M608.50 299.60v3.2M653.50 359.55v-3.2M653.50 299.60v3.2M698.50 359.55v-3.2M698.50 299.60v3.2M473.50 313.50h3.2M698.50 313.50h-3.2M473.50 336.20h3.2M698.50 336.20h-3.2M473.50 358.90h3.2M698.50 358.90h-3.2" stroke="#262626" stroke-width="2.1" fill="none"/>
<g fill="none" stroke="#0072bd" stroke-width="2.5">
<circle cx="484.75" cy="349.87" r="3.85"/>
<circle cx="486.62" cy="349.87" r="3.85"/>
<circle cx="488.50" cy="349.87" r="3.85"/>
<circle cx="490.38" cy="349.87" r="3.85"/>
<circle cx="492.25" cy="349.87" r="3.85"/>
<circle cx="494.12" cy="349.87" r="3.85"/>
<circle cx="496.00" cy="349.87" r="3.85"/>
<circle cx="497.88" cy="349.87" r="3.85"/>
<circle cx="499.75" cy="349.87" r="3.85"/>
<circle cx="501.62" cy="349.87" r="3.85"/>
<circle cx="503.50" cy="349.87" r="3.85"/>
<circle cx="505.38" cy="349.87" r="3.85"/>
<circle cx="507.25" cy="349.87" r="3.85"/>
<circle cx="509.12" cy="345.33" r="3.85"/>
<circle cx="511.00" cy="349.87" r="3.85"/>
<circle cx="512.88" cy="345.33" r="3.85"/>
<circle cx="514.75" cy="345.33" r="3.85"/>
<circle cx="516.62" cy="340.79" r="3.85"/>
<circle cx="518.50" cy="349.87" r="3.85"/>
<circle cx="520.38" cy="345.33" r="3.85"/>
<circle cx="522.25" cy="349.87" r="3.85"/>
<circle cx="524.12" cy="349.87" r="3.85"/>
<circle cx="526.00" cy="345.33" r="3.85"/>
<circle cx="527.88" cy="345.33" r="3.85"/>
<circle cx="529.75" cy="349.87" r="3.85"/>
<circle cx="531.62" cy="345.33" r="3.85"/>
<circle cx="533.50" cy="349.87" r="3.85"/>
<circle cx="535.38" cy="345.33" r="3.85"/>
<circle cx="537.25" cy="345.33" r="3.85"/>
<circle cx="539.12" cy="349.87" r="3.85"/>
<circle cx="541.00" cy="349.87" r="3.85"/>
<circle cx="542.88" cy="345.33" r="3.85"/>
<circle cx="544.75" cy="349.87" r="3.85"/>
<circle cx="546.62" cy="345.33" r="3.85"/>
<circle cx="548.50" cy="345.33" r="3.85"/>
<circle cx="550.38" cy="349.87" r="3.85"/>
<circle cx="552.25" cy="345.33" r="3.85"/>
<circle cx="554.12" cy="349.87" r="3.85"/>
<circle cx="556.00" cy="349.87" r="3.85"/>
<circle cx="557.88" cy="345.33" r="3.85"/>
<circle cx="559.75" cy="345.33" r="3.85"/>
<circle cx="561.62" cy="358.95" r="3.85"/>
<circle cx="563.50" cy="354.41" r="3.85"/>
<circle cx="565.38" cy="345.33" r="3.85"/>
<circle cx="567.25" cy="349.87" r="3.85"/>
<circle cx="569.12" cy="354.41" r="3.85"/>
<circle cx="571.00" cy="340.79" r="3.85"/>
<circle cx="572.88" cy="349.87" r="3.85"/>
<circle cx="574.75" cy="345.33" r="3.85"/>
<circle cx="576.62" cy="354.41" r="3.85"/>
<circle cx="578.50" cy="340.79" r="3.85"/>
<circle cx="580.38" cy="349.87" r="3.85"/>
<circle cx="582.25" cy="345.33" r="3.85"/>
<circle cx="584.12" cy="340.79" r="3.85"/>
<circle cx="586.00" cy="349.87" r="3.85"/>
<circle cx="587.88" cy="354.41" r="3.85"/>
<circle cx="589.75" cy="345.33" r="3.85"/>
<circle cx="591.62" cy="336.25" r="3.85"/>
<circle cx="593.50" cy="336.25" r="3.85"/>
<circle cx="595.38" cy="336.25" r="3.85"/>
<circle cx="597.25" cy="336.25" r="3.85"/>
<circle cx="599.12" cy="336.25" r="3.85"/>
<circle cx="601.00" cy="340.79" r="3.85"/>
<circle cx="602.88" cy="340.79" r="3.85"/>
<circle cx="604.75" cy="340.79" r="3.85"/>
<circle cx="606.62" cy="345.33" r="3.85"/>
<circle cx="608.50" cy="349.87" r="3.85"/>
<circle cx="610.38" cy="354.41" r="3.85"/>
<circle cx="612.25" cy="354.41" r="3.85"/>
<circle cx="614.12" cy="354.41" r="3.85"/>
<circle cx="616.00" cy="354.41" r="3.85"/>
<circle cx="617.88" cy="354.41" r="3.85"/>
<circle cx="619.75" cy="354.41" r="3.85"/>
<circle cx="621.62" cy="349.87" r="3.85"/>
<circle cx="623.50" cy="340.79" r="3.85"/>
<circle cx="625.38" cy="331.71" r="3.85"/>
<circle cx="627.25" cy="331.71" r="3.85"/>
<circle cx="629.12" cy="327.17" r="3.85"/>
<circle cx="631.00" cy="327.17" r="3.85"/>
<circle cx="632.88" cy="322.63" r="3.85"/>
<circle cx="634.75" cy="322.63" r="3.85"/>
<circle cx="636.62" cy="327.17" r="3.85"/>
<circle cx="638.50" cy="322.63" r="3.85"/>
<circle cx="640.38" cy="318.09" r="3.85"/>
<circle cx="642.25" cy="313.55" r="3.85"/>
<circle cx="644.12" cy="304.47" r="3.85"/>
<circle cx="646.00" cy="299.93" r="3.85"/>
<circle cx="647.88" cy="299.93" r="3.85"/>
<circle cx="649.75" cy="304.47" r="3.85"/>
<circle cx="651.62" cy="313.55" r="3.85"/>
<circle cx="653.50" cy="309.01" r="3.85"/>
<circle cx="655.38" cy="304.47" r="3.85"/>
<circle cx="657.25" cy="299.93" r="3.85"/>
<circle cx="659.12" cy="299.93" r="3.85"/>
<circle cx="661.00" cy="304.47" r="3.85"/>
<circle cx="662.88" cy="304.47" r="3.85"/>
<circle cx="664.75" cy="299.93" r="3.85"/>
</g>
<g transform="translate(466.60 320.95)"><path transform="translate(-27.24 0)" d="M6.75 0.00L5.27 0.00L5.27 -9.50Q5.27 -10.69 5.34 -11.74Q5.15 -11.55 4.92 -11.34Q4.69 -11.14 2.78 -9.57L1.98 -10.59L5.49 -13.88L6.75 -13.88Z"/><text x="-16.43" font-size="20.2">.</text><text x="-11.18" font-size="20.2">5</text></g>
<g transform="translate(466.60 343.85)"><path transform="translate(-11.12 0)" d="M6.75 0.00L5.27 0.00L5.27 -9.50Q5.27 -10.69 5.34 -11.74Q5.15 -11.55 4.92 -11.34Q4.69 -11.14 2.78 -9.57L1.98 -10.59L5.49 -13.88L6.75 -13.88Z"/></g>
<g transform="translate(466.60 366.15)"><text x="-27.30" font-size="20.2">0</text><text x="-16.43" font-size="20.2">.</text><text x="-11.18" font-size="20.2">5</text></g>
<text transform="translate(428.30 383.00) rotate(-90)" font-size="22.0" textLength="107.20" lengthAdjust="spacingAndGlyphs">H2OMIXRA</text>
</g>
<g id="ax6">
<path d="M132.00 435.84H355.40M132.00 452.96H355.40M132.00 461.52H355.40M132.00 470.08H355.40M132.00 478.64H355.40" stroke="#b6b6b6" stroke-width="1.7" stroke-dasharray="1.1 4.460" fill="none"/>
<path d="M175.40 427.00V487.35M220.40 427.00V487.35M265.40 427.00V487.35M310.40 427.00V487.35M130.40 444.40H355.40" stroke="#dedede" stroke-width="2.0" fill="none"/>
<rect x="130.40" y="427.00" width="225.00" height="60.35" fill="none" stroke="#262626" stroke-width="2.1"/>
<path d="M130.40 487.35v-3.2M130.40 427.00v3.2M175.40 487.35v-3.2M175.40 427.00v3.2M220.40 487.35v-3.2M220.40 427.00v3.2M265.40 487.35v-3.2M265.40 427.00v3.2M310.40 487.35v-3.2M310.40 427.00v3.2M355.40 487.35v-3.2M355.40 427.00v3.2M130.40 444.40h3.2M355.40 444.40h-3.2M130.40 487.20h3.2M355.40 487.20h-3.2" stroke="#262626" stroke-width="2.1" fill="none"/>
<g fill="none" stroke="#0072bd" stroke-width="2.5">
<circle cx="141.65" cy="487.20" r="3.85"/>
<circle cx="143.53" cy="487.20" r="3.85"/>
<circle cx="145.40" cy="487.20" r="3.85"/>
<circle cx="147.28" cy="487.20" r="3.85"/>
<circle cx="149.15" cy="487.20" r="3.85"/>
<circle cx="151.03" cy="487.20" r="3.85"/>
<circle cx="152.90" cy="487.20" r="3.85"/>
<circle cx="154.78" cy="487.20" r="3.85"/>
<circle cx="156.65" cy="487.20" r="3.85"/>
<circle cx="158.53" cy="487.20" r="3.85"/>
<circle cx="160.40" cy="487.20" r="3.85"/>
<circle cx="162.28" cy="487.20" r="3.85"/>
<circle cx="164.15" cy="487.20" r="3.85"/>
<circle cx="166.03" cy="487.20" r="3.85"/>
<circle cx="167.90" cy="487.20" r="3.85"/>
<circle cx="169.78" cy="487.20" r="3.85"/>
<circle cx="171.65" cy="487.20" r="3.85"/>
<circle cx="173.53" cy="487.20" r="3.85"/>
<circle cx="175.40" cy="487.20" r="3.85"/>
<circle cx="177.28" cy="487.20" r="3.85"/>
<circle cx="179.15" cy="487.20" r="3.85"/>
<circle cx="181.03" cy="487.20" r="3.85"/>
<circle cx="182.90" cy="487.20" r="3.85"/>
<circle cx="184.78" cy="487.20" r="3.85"/>
<circle cx="186.65" cy="487.20" r="3.85"/>
<circle cx="188.53" cy="487.20" r="3.85"/>
<circle cx="190.40" cy="487.20" r="3.85"/>
<circle cx="192.28" cy="487.20" r="3.85"/>
<circle cx="194.15" cy="487.20" r="3.85"/>
<circle cx="196.03" cy="487.20" r="3.85"/>
<circle cx="197.90" cy="487.20" r="3.85"/>
<circle cx="199.78" cy="487.20" r="3.85"/>
<circle cx="201.65" cy="487.20" r="3.85"/>
<circle cx="203.53" cy="487.20" r="3.85"/>
<circle cx="205.40" cy="487.20" r="3.85"/>
<circle cx="207.28" cy="487.20" r="3.85"/>
<circle cx="209.15" cy="487.20" r="3.85"/>
<circle cx="211.03" cy="487.20" r="3.85"/>
<circle cx="212.90" cy="487.20" r="3.85"/>
<circle cx="214.78" cy="487.20" r="3.85"/>
<circle cx="216.65" cy="487.20" r="3.85"/>
<circle cx="218.53" cy="487.20" r="3.85"/>
<circle cx="220.40" cy="487.20" r="3.85"/>
<circle cx="222.28" cy="487.20" r="3.85"/>
<circle cx="224.15" cy="487.20" r="3.85"/>
<circle cx="226.03" cy="487.20" r="3.85"/>
<circle cx="227.90" cy="487.20" r="3.85"/>
<circle cx="229.78" cy="487.20" r="3.85"/>
<circle cx="231.65" cy="487.20" r="3.85"/>
<circle cx="233.53" cy="487.20" r="3.85"/>
<circle cx="235.40" cy="487.20" r="3.85"/>
<circle cx="237.28" cy="487.20" r="3.85"/>
<circle cx="239.15" cy="487.20" r="3.85"/>
<circle cx="241.03" cy="487.20" r="3.85"/>
<circle cx="242.90" cy="487.20" r="3.85"/>
<circle cx="244.78" cy="487.20" r="3.85"/>
<circle cx="246.65" cy="487.20" r="3.85"/>
<circle cx="248.53" cy="487.20" r="3.85"/>
<circle cx="250.40" cy="487.20" r="3.85"/>
<circle cx="252.28" cy="487.20" r="3.85"/>
<circle cx="254.15" cy="487.20" r="3.85"/>
<circle cx="256.02" cy="487.20" r="3.85"/>
<circle cx="257.90" cy="487.20" r="3.85"/>
<circle cx="259.77" cy="487.20" r="3.85"/>
<circle cx="261.65" cy="487.20" r="3.85"/>
<circle cx="263.52" cy="487.20" r="3.85"/>
<circle cx="265.40" cy="475.22" r="3.85"/>
<circle cx="267.27" cy="427.28" r="3.85"/>
<circle cx="269.15" cy="457.41" r="3.85"/>
<circle cx="271.02" cy="479.07" r="3.85"/>
<circle cx="272.90" cy="482.92" r="3.85"/>
<circle cx="274.77" cy="469.82" r="3.85"/>
<circle cx="276.65" cy="487.20" r="3.85"/>
<circle cx="278.52" cy="487.20" r="3.85"/>
<circle cx="280.40" cy="487.20" r="3.85"/>
<circle cx="282.27" cy="487.20" r="3.85"/>
<circle cx="284.15" cy="487.20" r="3.85"/>
<circle cx="286.02" cy="487.20" r="3.85"/>
<circle cx="287.90" cy="487.20" r="3.85"/>
<circle cx="289.77" cy="487.20" r="3.85"/>
<circle cx="291.65" cy="487.20" r="3.85"/>
<circle cx="293.52" cy="487.20" r="3.85"/>
<circle cx="295.40" cy="487.20" r="3.85"/>
<circle cx="297.27" cy="487.20" r="3.85"/>
<circle cx="299.15" cy="487.20" r="3.85"/>
<circle cx="301.02" cy="487.20" r="3.85"/>
<circle cx="302.90" cy="487.20" r="3.85"/>
<circle cx="304.77" cy="487.20" r="3.85"/>
<circle cx="306.65" cy="485.32" r="3.85"/>
<circle cx="308.52" cy="467.51" r="3.85"/>
<circle cx="310.40" cy="446.63" r="3.85"/>
<circle cx="312.27" cy="457.41" r="3.85"/>
<circle cx="314.15" cy="461.52" r="3.85"/>
<circle cx="316.02" cy="461.52" r="3.85"/>
<circle cx="317.90" cy="461.09" r="3.85"/>
<circle cx="319.77" cy="461.52" r="3.85"/>
<circle cx="321.65" cy="461.52" r="3.85"/>
</g>
<g transform="translate(122.10 451.45)"><text x="-33.42" font-size="20.2">5</text><text x="-22.30" font-size="20.2">0</text><text x="-11.18" font-size="20.2">0</text></g>
<g transform="translate(122.10 493.85)"><text x="-11.18" font-size="20.2">0</text></g>
<text transform="translate(69.20 502.10) rotate(-90)" font-size="22.0" textLength="49.60" lengthAdjust="spacingAndGlyphs">TERR</text>
<text transform="translate(79.10 450.90) rotate(-90)" font-size="16.8" textLength="14.30" lengthAdjust="spacingAndGlyphs">M</text>
<text transform="translate(69.20 433.20) rotate(-90)" font-size="22.0" textLength="20.60" lengthAdjust="spacingAndGlyphs">SL</text>
<g transform="translate(144.60 509.25) rotate(-45)"><path transform="translate(-51.48 0)" d="M6.75 0.00L5.27 0.00L5.27 -9.50Q5.27 -10.69 5.34 -11.74Q5.15 -11.55 4.92 -11.34Q4.69 -11.14 2.78 -9.57L1.98 -10.59L5.49 -13.88L6.75 -13.88Z"/><path transform="translate(-40.36 0)" d="M6.75 0.00L5.27 0.00L5.27 -9.50Q5.27 -10.69 5.34 -11.74Q5.15 -11.55 4.92 -11.34Q4.69 -11.14 2.78 -9.57L1.98 -10.59L5.49 -13.88L6.75 -13.88Z"/><text x="-29.24" font-size="20.2" textLength="7.00" lengthAdjust="spacingAndGlyphs">/</text><path transform="translate(-22.24 0)" d="M6.75 0.00L5.27 0.00L5.27 -9.50Q5.27 -10.69 5.34 -11.74Q5.15 -11.55 4.92 -11.34Q4.69 -11.14 2.78 -9.57L1.98 -10.59L5.49 -13.88L6.75 -13.88Z"/><path transform="translate(-11.12 0)" d="M6.75 0.00L5.27 0.00L5.27 -9.50Q5.27 -10.69 5.34 -11.74Q5.15 -11.55 4.92 -11.34Q4.69 -11.14 2.78 -9.57L1.98 -10.59L5.49 -13.88L6.75 -13.88Z"/></g>
<g transform="translate(189.60 509.25) rotate(-45)"><path transform="translate(-51.48 0)" d="M6.75 0.00L5.27 0.00L5.27 -9.50Q5.27 -10.69 5.34 -11.74Q5.15 -11.55 4.92 -11.34Q4.69 -11.14 2.78 -9.57L1.98 -10.59L5.49 -13.88L6.75 -13.88Z"/><path transform="translate(-40.36 0)" d="M6.75 0.00L5.27 0.00L5.27 -9.50Q5.27 -10.69 5.34 -11.74Q5.15 -11.55 4.92 -11.34Q4.69 -11.14 2.78 -9.57L1.98 -10.59L5.49 -13.88L6.75 -13.88Z"/><text x="-29.24" font-size="20.2" textLength="7.00" lengthAdjust="spacingAndGlyphs">/</text><path transform="translate(-22.24 0)" d="M6.75 0.00L5.27 0.00L5.27 -9.50Q5.27 -10.69 5.34 -11.74Q5.15 -11.55 4.92 -11.34Q4.69 -11.14 2.78 -9.57L1.98 -10.59L5.49 -13.88L6.75 -13.88Z"/><text x="-11.18" font-size="20.2">2</text></g>
<g transform="translate(234.60 509.25) rotate(-45)"><path transform="translate(-51.48 0)" d="M6.75 0.00L5.27 0.00L5.27 -9.50Q5.27 -10.69 5.34 -11.74Q5.15 -11.55 4.92 -11.34Q4.69 -11.14 2.78 -9.57L1.98 -10.59L5.49 -13.88L6.75 -13.88Z"/><path transform="translate(-40.36 0)" d="M6.75 0.00L5.27 0.00L5.27 -9.50Q5.27 -10.69 5.34 -11.74Q5.15 -11.55 4.92 -11.34Q4.69 -11.14 2.78 -9.57L1.98 -10.59L5.49 -13.88L6.75 -13.88Z"/><text x="-29.24" font-size="20.2" textLength="7.00" lengthAdjust="spacingAndGlyphs">/</text><path transform="translate(-22.24 0)" d="M6.75 0.00L5.27 0.00L5.27 -9.50Q5.27 -10.69 5.34 -11.74Q5.15 -11.55 4.92 -11.34Q4.69 -11.14 2.78 -9.57L1.98 -10.59L5.49 -13.88L6.75 -13.88Z"/><text x="-11.18" font-size="20.2">3</text></g>
<g transform="translate(279.60 509.25) rotate(-45)"><path transform="translate(-51.48 0)" d="M6.75 0.00L5.27 0.00L5.27 -9.50Q5.27 -10.69 5.34 -11.74Q5.15 -11.55 4.92 -11.34Q4.69 -11.14 2.78 -9.57L1.98 -10.59L5.49 -13.88L6.75 -13.88Z"/><path transform="translate(-40.36 0)" d="M6.75 0.00L5.27 0.00L5.27 -9.50Q5.27 -10.69 5.34 -11.74Q5.15 -11.55 4.92 -11.34Q4.69 -11.14 2.78 -9.57L1.98 -10.59L5.49 -13.88L6.75 -13.88Z"/><text x="-29.24" font-size="20.2" textLength="7.00" lengthAdjust="spacingAndGlyphs">/</text><path transform="translate(-22.24 0)" d="M6.75 0.00L5.27 0.00L5.27 -9.50Q5.27 -10.69 5.34 -11.74Q5.15 -11.55 4.92 -11.34Q4.69 -11.14 2.78 -9.57L1.98 -10.59L5.49 -13.88L6.75 -13.88Z"/><text x="-11.18" font-size="20.2">4</text></g>
<g transform="translate(324.60 509.25) rotate(-45)"><path transform="translate(-51.48 0)" d="M6.75 0.00L5.27 0.00L5.27 -9.50Q5.27 -10.69 5.34 -11.74Q5.15 -11.55 4.92 -11.34Q4.69 -11.14 2.78 -9.57L1.98 -10.59L5.49 -13.88L6.75 -13.88Z"/><path transform="translate(-40.36 0)" d="M6.75 0.00L5.27 0.00L5.27 -9.50Q5.27 -10.69 5.34 -11.74Q5.15 -11.55 4.92 -11.34Q4.69 -11.14 2.78 -9.57L1.98 -10.59L5.49 -13.88L6.75 -13.88Z"/><text x="-29.24" font-size="20.2" textLength="7.00" lengthAdjust="spacingAndGlyphs">/</text><path transform="translate(-22.24 0)" d="M6.75 0.00L5.27 0.00L5.27 -9.50Q5.27 -10.69 5.34 -11.74Q5.15 -11.55 4.92 -11.34Q4.69 -11.14 2.78 -9.57L1.98 -10.59L5.49 -13.88L6.75 -13.88Z"/><text x="-11.18" font-size="20.2">5</text></g>
<g transform="translate(369.60 509.25) rotate(-45)"><path transform="translate(-51.48 0)" d="M6.75 0.00L5.27 0.00L5.27 -9.50Q5.27 -10.69 5.34 -11.74Q5.15 -11.55 4.92 -11.34Q4.69 -11.14 2.78 -9.57L1.98 -10.59L5.49 -13.88L6.75 -13.88Z"/><path transform="translate(-40.36 0)" d="M6.75 0.00L5.27 0.00L5.27 -9.50Q5.27 -10.69 5.34 -11.74Q5.15 -11.55 4.92 -11.34Q4.69 -11.14 2.78 -9.57L1.98 -10.59L5.49 -13.88L6.75 -13.88Z"/><text x="-29.24" font-size="20.2" textLength="7.00" lengthAdjust="spacingAndGlyphs">/</text><path transform="translate(-22.24 0)" d="M6.75 0.00L5.27 0.00L5.27 -9.50Q5.27 -10.69 5.34 -11.74Q5.15 -11.55 4.92 -11.34Q4.69 -11.14 2.78 -9.57L1.98 -10.59L5.49 -13.88L6.75 -13.88Z"/><text x="-11.18" font-size="20.2">6</text></g>
<text x="217.7" y="575.7" font-size="22.0" textLength="49.8" lengthAdjust="spacingAndGlyphs">Time</text>
</g>
<g id="ax7">
<path d="M475.10 433.08H698.50M475.10 439.16H698.50M475.10 445.24H698.50M475.10 451.32H698.50M475.10 463.48H698.50M475.10 469.56H698.50M475.10 475.64H698.50M475.10 481.72H698.50" stroke="#b6b6b6" stroke-width="1.7" stroke-dasharray="1.1 4.460" fill="none"/>
<path d="M518.50 427.00V487.35M563.50 427.00V487.35M608.50 427.00V487.35M653.50 427.00V487.35M473.50 457.20H698.50" stroke="#dedede" stroke-width="2.0" fill="none"/>
<rect x="473.50" y="427.00" width="225.00" height="60.35" fill="none" stroke="#262626" stroke-width="2.1"/>
<path d="M473.50 487.35v-3.2M473.50 427.00v3.2M518.50 487.35v-3.2M518.50 427.00v3.2M563.50 487.35v-3.2M563.50 427.00v3.2M608.50 487.35v-3.2M608.50 427.00v3.2M653.50 487.35v-3.2M653.50 427.00v3.2M698.50 487.35v-3.2M698.50 427.00v3.2M473.50 427.00h3.2M698.50 427.00h-3.2M473.50 457.20h3.2M698.50 457.20h-3.2M473.50 487.35h3.2M698.50 487.35h-3.2" stroke="#262626" stroke-width="2.1" fill="none"/>
<g fill="none" stroke="#0072bd" stroke-width="2.5">
<circle cx="484.75" cy="457.30" r="3.85"/>
<circle cx="486.62" cy="457.30" r="3.85"/>
<circle cx="488.50" cy="457.30" r="3.85"/>
<circle cx="490.38" cy="457.30" r="3.85"/>
<circle cx="492.25" cy="457.30" r="3.85"/>
<circle cx="494.12" cy="457.30" r="3.85"/>
<circle cx="496.00" cy="457.30" r="3.85"/>
<circle cx="497.88" cy="457.30" r="3.85"/>
<circle cx="499.75" cy="457.30" r="3.85"/>
<circle cx="501.62" cy="457.30" r="3.85"/>
<circle cx="503.50" cy="457.30" r="3.85"/>
<circle cx="505.38" cy="457.30" r="3.85"/>
<circle cx="507.25" cy="457.30" r="3.85"/>
<circle cx="509.12" cy="457.30" r="3.85"/>
<circle cx="511.00" cy="457.30" r="3.85"/>
<circle cx="512.88" cy="457.30" r="3.85"/>
<circle cx="514.75" cy="457.30" r="3.85"/>
<circle cx="516.62" cy="457.30" r="3.85"/>
<circle cx="518.50" cy="457.30" r="3.85"/>
<circle cx="520.38" cy="457.30" r="3.85"/>
<circle cx="522.25" cy="457.30" r="3.85"/>
<circle cx="524.12" cy="457.30" r="3.85"/>
<circle cx="526.00" cy="457.30" r="3.85"/>
<circle cx="527.88" cy="457.30" r="3.85"/>
<circle cx="529.75" cy="457.30" r="3.85"/>
<circle cx="531.62" cy="457.30" r="3.85"/>
<circle cx="533.50" cy="457.30" r="3.85"/>
<circle cx="535.38" cy="457.30" r="3.85"/>
<circle cx="537.25" cy="457.30" r="3.85"/>
<circle cx="539.12" cy="457.30" r="3.85"/>
<circle cx="541.00" cy="457.30" r="3.85"/>
<circle cx="542.88" cy="457.30" r="3.85"/>
<circle cx="544.75" cy="457.30" r="3.85"/>
<circle cx="546.62" cy="457.30" r="3.85"/>
<circle cx="548.50" cy="457.30" r="3.85"/>
<circle cx="550.38" cy="457.30" r="3.85"/>
<circle cx="552.25" cy="457.30" r="3.85"/>
<circle cx="554.12" cy="457.30" r="3.85"/>
<circle cx="556.00" cy="457.30" r="3.85"/>
<circle cx="557.88" cy="457.30" r="3.85"/>
<circle cx="559.75" cy="457.30" r="3.85"/>
<circle cx="561.62" cy="457.30" r="3.85"/>
<circle cx="563.50" cy="457.30" r="3.85"/>
<circle cx="565.38" cy="457.30" r="3.85"/>
<circle cx="567.25" cy="457.30" r="3.85"/>
<circle cx="569.12" cy="457.30" r="3.85"/>
<circle cx="571.00" cy="457.30" r="3.85"/>
<circle cx="572.88" cy="457.30" r="3.85"/>
<circle cx="574.75" cy="457.30" r="3.85"/>
<circle cx="576.62" cy="457.30" r="3.85"/>
<circle cx="578.50" cy="457.30" r="3.85"/>
<circle cx="580.38" cy="457.30" r="3.85"/>
<circle cx="582.25" cy="457.30" r="3.85"/>
<circle cx="584.12" cy="457.30" r="3.85"/>
<circle cx="586.00" cy="457.30" r="3.85"/>
<circle cx="587.88" cy="457.30" r="3.85"/>
<circle cx="589.75" cy="457.30" r="3.85"/>
<circle cx="591.62" cy="457.30" r="3.85"/>
<circle cx="593.50" cy="457.30" r="3.85"/>
<circle cx="595.38" cy="457.30" r="3.85"/>
<circle cx="597.25" cy="457.30" r="3.85"/>
<circle cx="599.12" cy="457.30" r="3.85"/>
<circle cx="601.00" cy="457.30" r="3.85"/>
<circle cx="602.88" cy="457.30" r="3.85"/>
<circle cx="604.75" cy="457.30" r="3.85"/>
<circle cx="606.62" cy="457.30" r="3.85"/>
<circle cx="608.50" cy="457.30" r="3.85"/>
<circle cx="610.38" cy="457.30" r="3.85"/>
<circle cx="612.25" cy="457.30" r="3.85"/>
<circle cx="614.12" cy="457.30" r="3.85"/>
<circle cx="616.00" cy="457.30" r="3.85"/>
<circle cx="617.88" cy="457.30" r="3.85"/>
<circle cx="619.75" cy="457.30" r="3.85"/>
<circle cx="621.62" cy="457.30" r="3.85"/>
<circle cx="623.50" cy="457.30" r="3.85"/>
<circle cx="625.38" cy="457.30" r="3.85"/>
<circle cx="627.25" cy="457.30" r="3.85"/>
<circle cx="629.12" cy="457.30" r="3.85"/>
<circle cx="631.00" cy="457.30" r="3.85"/>
<circle cx="632.88" cy="457.30" r="3.85"/>
<circle cx="634.75" cy="457.30" r="3.85"/>
<circle cx="636.62" cy="457.30" r="3.85"/>
<circle cx="638.50" cy="457.30" r="3.85"/>
<circle cx="640.38" cy="457.30" r="3.85"/>
<circle cx="642.25" cy="457.30" r="3.85"/>
<circle cx="644.12" cy="457.30" r="3.85"/>
<circle cx="646.00" cy="457.30" r="3.85"/>
<circle cx="647.88" cy="457.30" r="3.85"/>
<circle cx="649.75" cy="457.30" r="3.85"/>
<circle cx="651.62" cy="457.30" r="3.85"/>
<circle cx="653.50" cy="457.30" r="3.85"/>
<circle cx="655.38" cy="457.30" r="3.85"/>
<circle cx="657.25" cy="457.30" r="3.85"/>
<circle cx="659.12" cy="457.30" r="3.85"/>
<circle cx="661.00" cy="457.30" r="3.85"/>
<circle cx="662.88" cy="457.30" r="3.85"/>
<circle cx="664.75" cy="457.30" r="3.85"/>
</g>
<g transform="translate(466.60 433.95)"><path transform="translate(-11.12 0)" d="M6.75 0.00L5.27 0.00L5.27 -9.50Q5.27 -10.69 5.34 -11.74Q5.15 -11.55 4.92 -11.34Q4.69 -11.14 2.78 -9.57L1.98 -10.59L5.49 -13.88L6.75 -13.88Z"/></g>
<g transform="translate(466.60 464.55)"><text x="-11.18" font-size="20.2">0</text></g>
<g transform="translate(466.60 495.15)"><text x="-17.48" font-size="20.2">-</text><path transform="translate(-11.12 0)" d="M6.75 0.00L5.27 0.00L5.27 -9.50Q5.27 -10.69 5.34 -11.74Q5.15 -11.55 4.92 -11.34Q4.69 -11.14 2.78 -9.57L1.98 -10.59L5.49 -13.88L6.75 -13.88Z"/></g>
<text transform="translate(399.20 502.80) rotate(-90)" font-size="22.0" textLength="39.50" lengthAdjust="spacingAndGlyphs">SUN</text>
<text transform="translate(407.50 457.60) rotate(-90)" font-size="16.8" textLength="7.40" lengthAdjust="spacingAndGlyphs">F</text>
<text transform="translate(399.20 448.40) rotate(-90)" font-size="22.0" textLength="36.80" lengthAdjust="spacingAndGlyphs">LUX</text>
<g transform="translate(487.70 509.25) rotate(-45)"><path transform="translate(-51.48 0)" d="M6.75 0.00L5.27 0.00L5.27 -9.50Q5.27 -10.69 5.34 -11.74Q5.15 -11.55 4.92 -11.34Q4.69 -11.14 2.78 -9.57L1.98 -10.59L5.49 -13.88L6.75 -13.88Z"/><path transform="translate(-40.36 0)" d="M6.75 0.00L5.27 0.00L5.27 -9.50Q5.27 -10.69 5.34 -11.74Q5.15 -11.55 4.92 -11.34Q4.69 -11.14 2.78 -9.57L1.98 -10.59L5.49 -13.88L6.75 -13.88Z"/><text x="-29.24" font-size="20.2" textLength="7.00" lengthAdjust="spacingAndGlyphs">/</text><path transform="translate(-22.24 0)" d="M6.75 0.00L5.27 0.00L5.27 -9.50Q5.27 -10.69 5.34 -11.74Q5.15 -11.55 4.92 -11.34Q4.69 -11.14 2.78 -9.57L1.98 -10.59L5.49 -13.88L6.75 -13.88Z"/><path transform="translate(-11.12 0)" d="M6.75 0.00L5.27 0.00L5.27 -9.50Q5.27 -10.69 5.34 -11.74Q5.15 -11.55 4.92 -11.34Q4.69 -11.14 2.78 -9.57L1.98 -10.59L5.49 -13.88L6.75 -13.88Z"/></g>
<g transform="translate(532.70 509.25) rotate(-45)"><path transform="translate(-51.48 0)" d="M6.75 0.00L5.27 0.00L5.27 -9.50Q5.27 -10.69 5.34 -11.74Q5.15 -11.55 4.92 -11.34Q4.69 -11.14 2.78 -9.57L1.98 -10.59L5.49 -13.88L6.75 -13.88Z"/><path transform="translate(-40.36 0)" d="M6.75 0.00L5.27 0.00L5.27 -9.50Q5.27 -10.69 5.34 -11.74Q5.15 -11.55 4.92 -11.34Q4.69 -11.14 2.78 -9.57L1.98 -10.59L5.49 -13.88L6.75 -13.88Z"/><text x="-29.24" font-size="20.2" textLength="7.00" lengthAdjust="spacingAndGlyphs">/</text><path transform="translate(-22.24 0)" d="M6.75 0.00L5.27 0.00L5.27 -9.50Q5.27 -10.69 5.34 -11.74Q5.15 -11.55 4.92 -11.34Q4.69 -11.14 2.78 -9.57L1.98 -10.59L5.49 -13.88L6.75 -13.88Z"/><text x="-11.18" font-size="20.2">2</text></g>
<g transform="translate(577.70 509.25) rotate(-45)"><path transform="translate(-51.48 0)" d="M6.75 0.00L5.27 0.00L5.27 -9.50Q5.27 -10.69 5.34 -11.74Q5.15 -11.55 4.92 -11.34Q4.69 -11.14 2.78 -9.57L1.98 -10.59L5.49 -13.88L6.75 -13.88Z"/><path transform="translate(-40.36 0)" d="M6.75 0.00L5.27 0.00L5.27 -9.50Q5.27 -10.69 5.34 -11.74Q5.15 -11.55 4.92 -11.34Q4.69 -11.14 2.78 -9.57L1.98 -10.59L5.49 -13.88L6.75 -13.88Z"/><text x="-29.24" font-size="20.2" textLength="7.00" lengthAdjust="spacingAndGlyphs">/</text><path transform="translate(-22.24 0)" d="M6.75 0.00L5.27 0.00L5.27 -9.50Q5.27 -10.69 5.34 -11.74Q5.15 -11.55 4.92 -11.34Q4.69 -11.14 2.78 -9.57L1.98 -10.59L5.49 -13.88L6.75 -13.88Z"/><text x="-11.18" font-size="20.2">3</text></g>
<g transform="translate(622.70 509.25) rotate(-45)"><path transform="translate(-51.48 0)" d="M6.75 0.00L5.27 0.00L5.27 -9.50Q5.27 -10.69 5.34 -11.74Q5.15 -11.55 4.92 -11.34Q4.69 -11.14 2.78 -9.57L1.98 -10.59L5.49 -13.88L6.75 -13.88Z"/><path transform="translate(-40.36 0)" d="M6.75 0.00L5.27 0.00L5.27 -9.50Q5.27 -10.69 5.34 -11.74Q5.15 -11.55 4.92 -11.34Q4.69 -11.14 2.78 -9.57L1.98 -10.59L5.49 -13.88L6.75 -13.88Z"/><text x="-29.24" font-size="20.2" textLength="7.00" lengthAdjust="spacingAndGlyphs">/</text><path transform="translate(-22.24 0)" d="M6.75 0.00L5.27 0.00L5.27 -9.50Q5.27 -10.69 5.34 -11.74Q5.15 -11.55 4.92 -11.34Q4.69 -11.14 2.78 -9.57L1.98 -10.59L5.49 -13.88L6.75 -13.88Z"/><text x="-11.18" font-size="20.2">4</text></g>
<g transform="translate(667.70 509.25) rotate(-45)"><path transform="translate(-51.48 0)" d="M6.75 0.00L5.27 0.00L5.27 -9.50Q5.27 -10.69 5.34 -11.74Q5.15 -11.55 4.92 -11.34Q4.69 -11.14 2.78 -9.57L1.98 -10.59L5.49 -13.88L6.75 -13.88Z"/><path transform="translate(-40.36 0)" d="M6.75 0.00L5.27 0.00L5.27 -9.50Q5.27 -10.69 5.34 -11.74Q5.15 -11.55 4.92 -11.34Q4.69 -11.14 2.78 -9.57L1.98 -10.59L5.49 -13.88L6.75 -13.88Z"/><text x="-29.24" font-size="20.2" textLength="7.00" lengthAdjust="spacingAndGlyphs">/</text><path transform="translate(-22.24 0)" d="M6.75 0.00L5.27 0.00L5.27 -9.50Q5.27 -10.69 5.34 -11.74Q5.15 -11.55 4.92 -11.34Q4.69 -11.14 2.78 -9.57L1.98 -10.59L5.49 -13.88L6.75 -13.88Z"/><text x="-11.18" font-size="20.2">5</text></g>
<g transform="translate(712.70 509.25) rotate(-45)"><path transform="translate(-51.48 0)" d="M6.75 0.00L5.27 0.00L5.27 -9.50Q5.27 -10.69 5.34 -11.74Q5.15 -11.55 4.92 -11.34Q4.69 -11.14 2.78 -9.57L1.98 -10.59L5.49 -13.88L6.75 -13.88Z"/><path transform="translate(-40.36 0)" d="M6.75 0.00L5.27 0.00L5.27 -9.50Q5.27 -10.69 5.34 -11.74Q5.15 -11.55 4.92 -11.34Q4.69 -11.14 2.78 -9.57L1.98 -10.59L5.49 -13.88L6.75 -13.88Z"/><text x="-29.24" font-size="20.2" textLength="7.00" lengthAdjust="spacingAndGlyphs">/</text><path transform="translate(-22.24 0)" d="M6.75 0.00L5.27 0.00L5.27 -9.50Q5.27 -10.69 5.34 -11.74Q5.15 -11.55 4.92 -11.34Q4.69 -11.14 2.78 -9.57L1.98 -10.59L5.49 -13.88L6.75 -13.88Z"/><text x="-11.18" font-size="20.2">6</text></g>
<text x="560.9" y="575.7" font-size="22.0" textLength="49.8" lengthAdjust="spacingAndGlyphs">Time</text>
</g>
</svg>
</body></html>
